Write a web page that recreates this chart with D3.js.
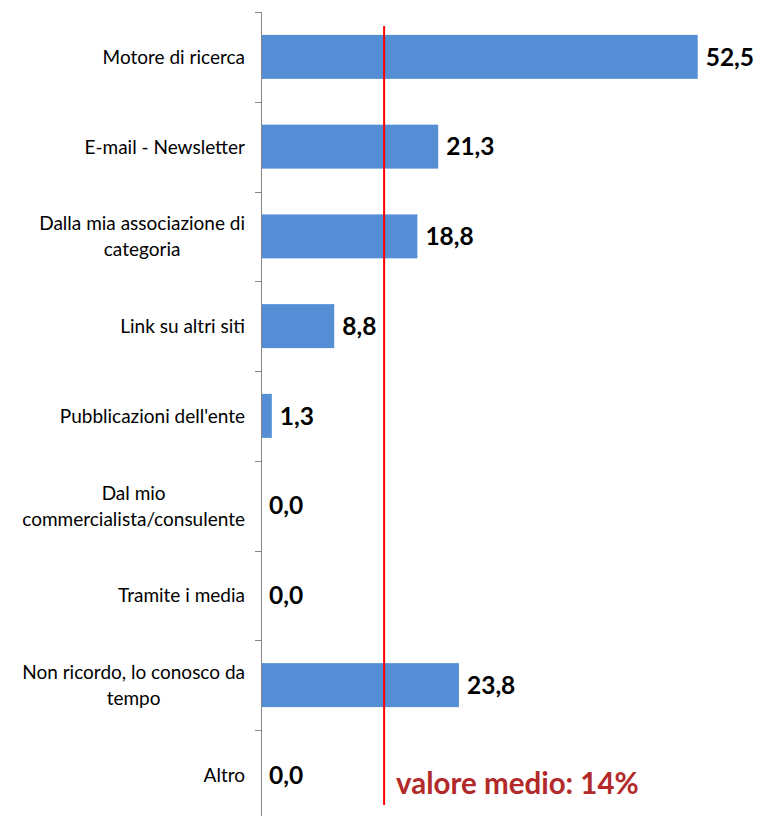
<!DOCTYPE html>
<html lang="it">
<head>
<meta charset="UTF-8">
<title>Come ha conosciuto il sito</title>
<script src="https://d3js.org/d3.v7.min.js"></script>
<style>
    body { margin: 0; background: #fff; }
    .cat text { font: 19px Lato, sans-serif; fill: #000; }
    .val { font: bold 24.5px Lato, sans-serif; fill: #000; }
    .media { font: bold 29.5px Lato, sans-serif; fill: #b22a2a; }
</style>
</head>
<body>
<script>
    // categories (lines as wrapped in the original) and values in %
    var categories = [
        ["Motore di ricerca"],
        ["E-mail - Newsletter"],
        ["Dalla mia associazione di", "categoria"],
        ["Link su altri siti"],
        ["Pubblicazioni dell'ente"],
        ["Dal mio", "commercialista/consulente"],
        ["Tramite i media"],
        ["Non ricordo, lo conosco da", "tempo"],
        ["Altro"]
    ];
    var values = [52.5, 21.3, 18.8, 8.8, 1.3, 0.0, 0.0, 23.8, 0.0];
    var meanPosition = [14.8];          // where the red line sits on the value axis
    var meanLabel = ["valore medio: 14%"];

    var width = 758, height = 816;
    var x0 = 261, x1 = 697.7;
    var y0 = 12, bandH = 89.75;

    var svg = d3.select("body").append("svg")
        .attr("width", width)
        .attr("height", height);

    var x = d3.scaleLinear()
        .domain([0, 52.5])
        .range([x0, x1]);

    var y = d3.scaleBand()
        .domain(d3.range(categories.length))
        .range([y0, y0 + bandH * categories.length])
        .paddingInner(0.51)
        .paddingOuter(0.255);

    // bars
    svg.selectAll(".bar")
        .data(values)
        .enter()
        .append("rect")
        .attr("class", "bar")
        .attr("x", x(0))
        .attr("y", function (d, i) { return y(i); })
        .attr("width", function (d) { return x(d) - x(0); })
        .attr("height", y.bandwidth())
        .attr("fill", "#558ed5");

    // category axis line + ticks at band edges
    svg.append("line")
        .attr("x1", x0 + 0.5).attr("x2", x0 + 0.5)
        .attr("y1", y0).attr("y2", height)
        .attr("stroke", "#868686");

    svg.selectAll(".tick")
        .data(d3.range(categories.length + 1))
        .enter()
        .append("line")
        .attr("x1", x0 - 6).attr("x2", x0)
        .attr("y1", function (i) { return Math.round(y0 + i * bandH) + 0.5; })
        .attr("y2", function (i) { return Math.round(y0 + i * bandH) + 0.5; })
        .attr("stroke", "#868686");

    // category labels: block right-aligned, lines centred inside
    var lineH = 26;
    var cat = svg.selectAll(".cat")
        .data(categories)
        .enter()
        .append("g")
        .attr("class", "cat");

    cat.each(function (lines, i) {
        var g = d3.select(this);
        var cy = y(i) + y.bandwidth() / 2;
        var t = g.selectAll("text")
            .data(lines)
            .enter()
            .append("text")
            .attr("text-anchor", "middle")
            .attr("y", function (d, k) { return cy + 7 + (k - (lines.length - 1) / 2) * lineH; })
            .text(function (d) { return d; });
        var maxW = 0;
        t.each(function () { maxW = Math.max(maxW, this.getComputedTextLength()); });
        t.attr("x", 245 - maxW / 2);
    });

    // mean line
    svg.append("line")
        .attr("x1", x(meanPosition[0])).attr("x2", x(meanPosition[0]))
        .attr("y1", 26).attr("y2", 805)
        .attr("stroke", "#ff0000")
        .attr("stroke-width", 2);

    // value labels
    svg.selectAll(".val")
        .data(values)
        .enter()
        .append("text")
        .attr("class", "val")
        .attr("x", function (d) { return x(d) + 8; })
        .attr("y", function (d, i) { return y(i) + y.bandwidth() / 2; })
        .attr("dy", "0.36em")
        .text(function (d) { return d.toFixed(1).replace(".", ","); });

    svg.append("text")
        .attr("class", "media")
        .attr("x", 396)
        .attr("y", 794)
        .text(meanLabel[0]);
</script>
</body>
</html>
